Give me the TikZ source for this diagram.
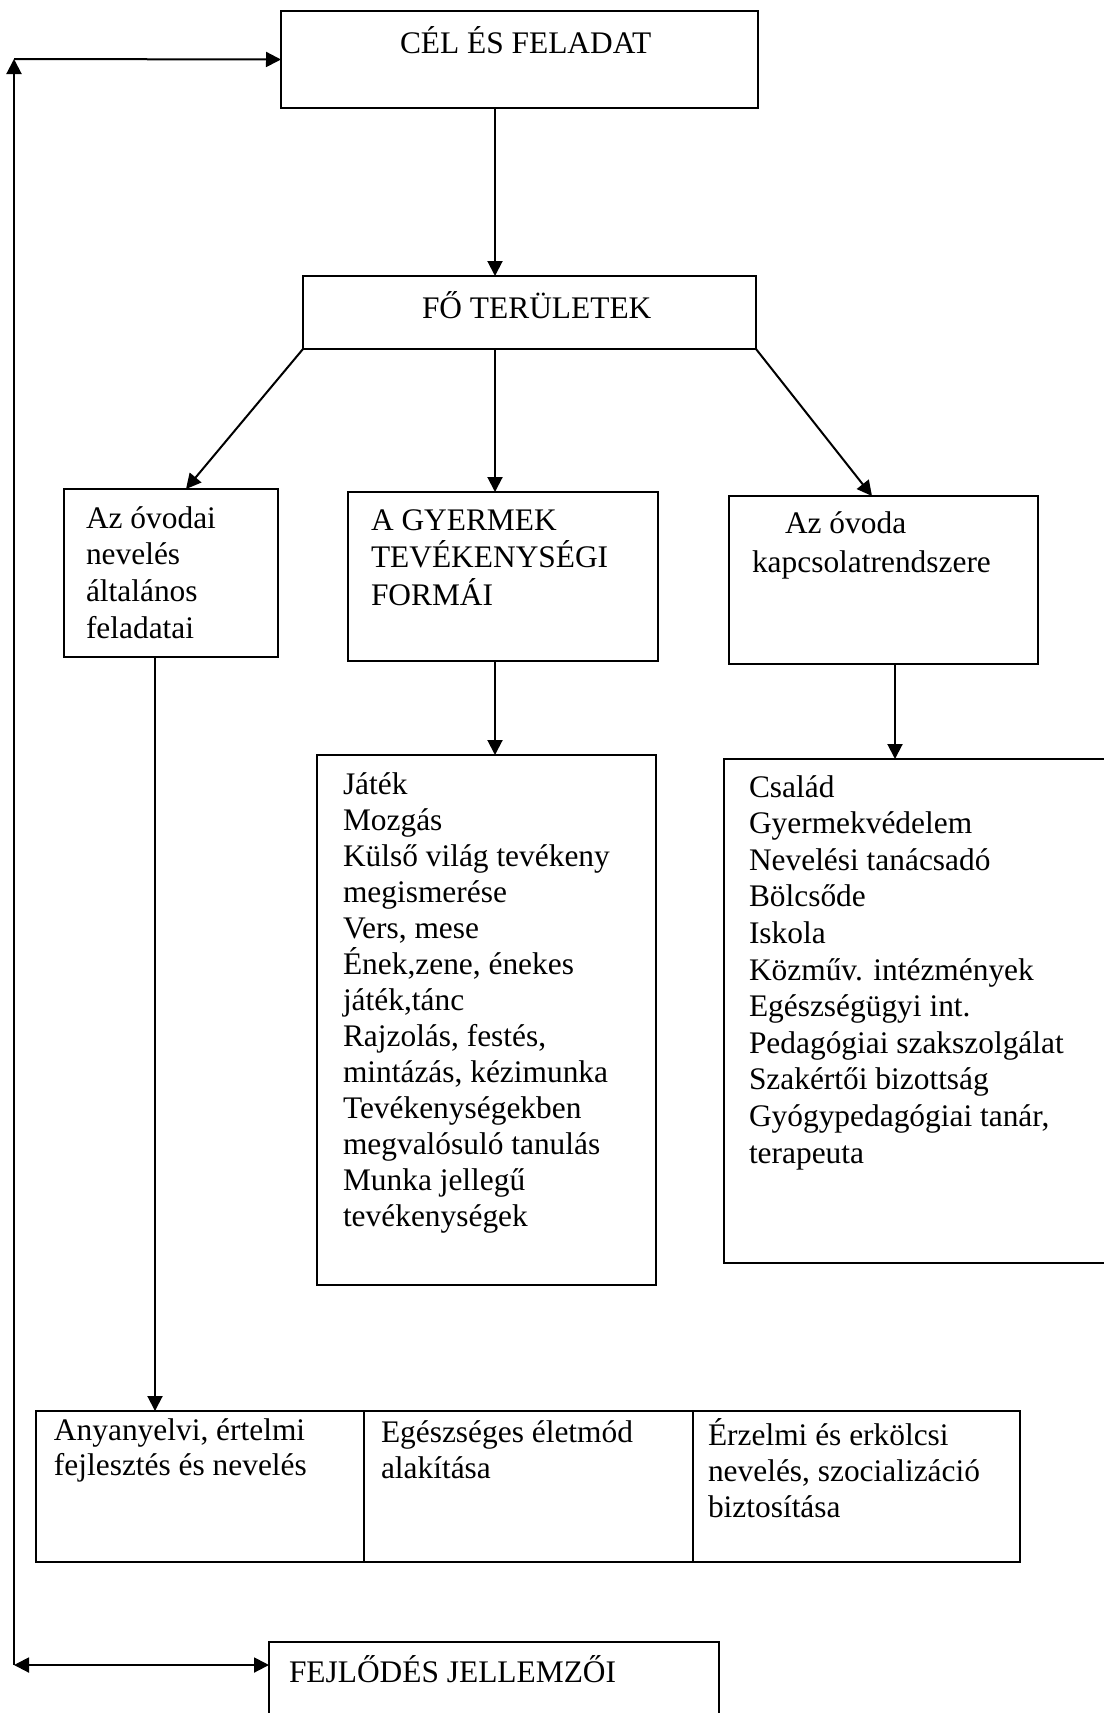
\documentclass[tikz,border=0pt]{standalone}
\usepackage{fontspec}
\setmainfont{Liberation Serif}
\usetikzlibrary{arrows.meta}

\begin{document}
\begin{tikzpicture}[x=.5pt, y=-.5pt, line width=1pt, >={Triangle[length=7.5pt,width=7.5pt]},
 box/.style={draw, rectangle, anchor=north west, inner sep=0, outer sep=0},
 txt/.style={anchor=base west, inner sep=0, font=\fontsize{15.7}{18.2}\selectfont}]
\useasboundingbox (0,0) rectangle (1103,1713);

\node[box, minimum width=238.5pt, minimum height=48.5pt] (cel) at (281,11) {};
\node[box, minimum width=226.5pt, minimum height=36.5pt] (fo) at (303,276) {};
\node[box, minimum width=107pt, minimum height=84pt] (az) at (64,489) {};
\node[box, minimum width=155pt, minimum height=84.5pt] (gyer) at (348,492) {};
\node[box, minimum width=154.5pt, minimum height=84pt] (kap) at (729,496) {};
\node[box, minimum width=169.5pt, minimum height=265pt] (jat) at (317,755) {};
\node[box, minimum width=191pt, minimum height=252pt] (csal) at (724,759) {};
\node[box, minimum width=164pt, minimum height=75.5pt] (cell1) at (36,1411) {};
\node[box, minimum width=164.5pt, minimum height=75.5pt] (cell2) at (364,1411) {};
\node[box, minimum width=163.5pt, minimum height=75.5pt] (cell3) at (693,1411) {};
\node[box, minimum width=225pt, minimum height=36pt] (fejl) at (269,1642) {};

\node[txt] (cel-t) at (399,54) {CÉL ÉS FELADAT};
\node[txt] (fo-t) at (421,318) {FŐ TERÜLETEK};
\foreach \t [count=\i from 0] in {Az óvodai, nevelés, általános, feladatai}
 \node[txt] (az-\i) at (85,528+36.7*\i) {\t};
\foreach \t [count=\i from 0] in {A GYERMEK, TEVÉKENYSÉGI, FORMÁI}
 \node[txt] (gyer-\i) at (370,530+37.5*\i) {\t};
\node[txt] (kap-0) at (784,533) {Az óvoda};
\node[txt] (kap-1) at (751,572) {kapcsolatrendszere};
\foreach \t [count=\i from 0] in {Játék, Mozgás, Külső világ tevékeny, megismerése, {Vers, mese},
 {Ének,zene, énekes}, {játék,tánc}, {Rajzolás, festés,}, {mintázás, kézimunka},
 Tevékenységekben, megvalósuló tanulás, Munka jellegű, tevékenységek}
 \node[txt] (jat-\i) at (342,794+36*\i) {\t};
\foreach \t [count=\i from 0] in {Család, Gyermekvédelem, Nevelési tanácsadó, Bölcsőde, Iskola,
 Közműv. intézmények, Egészségügyi int., Pedagógiai szakszolgálat, Szakértői bizottság,
 {Gyógypedagógiai tanár,}, terapeuta}
 \node[txt] (csal-\i) at (748,797+36.6*\i) {\t};
\foreach \t [count=\i from 0] in {{Anyanyelvi, értelmi}, fejlesztés és nevelés}
 \node[txt] (cell1-\i) at (53,1440+35.5*\i) {\t};
\foreach \t [count=\i from 0] in {Egészséges életmód, alakítása}
 \node[txt] (cell2-\i) at (380,1442+36*\i) {\t};
\foreach \t [count=\i from 0] in {Érzelmi és erkölcsi, {nevelés, szocializáció}, biztosítása}
 \node[txt] (cell3-\i) at (707,1445+36*\i) {\t};
\node[txt] (fejl-t) at (288,1682) {FEJLŐDÉS JELLEMZŐI};

\coordinate (mid) at (495,0);
\coordinate (rcol) at (895,0);
\coordinate (tl) at (14,59);
\coordinate (bl) at (14,1665);
\draw[->] (mid |- cel.south) -- (mid |- fo.north);
\draw[->] (fo.south west) -- ([xshift=7.5pt]az.north);
\draw[->] (mid |- fo.south) -- (mid |- gyer.north);
\draw[->] (fo.south east) -- ([xshift=-5.75pt]kap.north);
\draw[->] (mid |- gyer.south) -- (mid |- jat.north);
\draw[->] (rcol |- kap.south) -- (rcol |- csal.north);
\draw[->] ([xshift=-8pt]az.south) -- ([xshift=-8pt]az.south |- cell1.north);
\draw[->] (bl) -- (tl);
\draw[->] (tl) -- (cel.west);
\draw[<->] (bl) -- (bl -| fejl.west);
\end{tikzpicture}
\end{document}
